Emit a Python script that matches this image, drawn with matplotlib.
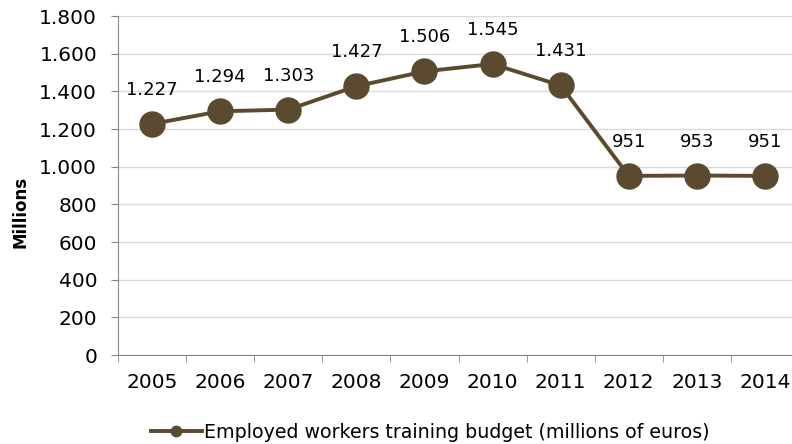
import matplotlib
matplotlib.use("Agg")
import matplotlib.pyplot as plt
from matplotlib.ticker import FuncFormatter, FixedLocator

# Data
years = ["2005", "2006", "2007", "2008", "2009", "2010", "2011", "2012", "2013", "2014"]
budget = [1227, 1294, 1303, 1427, 1506, 1545, 1431, 951, 953, 951]
series_label = "Employed workers training budget (millions of euros)"

color = "#5B4A30"

def thousands(v, pos=None):
    # European style: dot as thousands separator
    return f"{int(v):,}".replace(",", ".")

plt.rcParams["font.family"] = "DejaVu Sans"

fig = plt.figure(figsize=(7.92, 4.44), dpi=100)
ax = fig.add_axes([118 / 792, 89 / 444, 681 / 792, 339 / 444])

x = list(range(len(years)))
ax.plot(x, budget, color=color, lw=2.8, marker="o", markersize=18,
        label=series_label, zorder=3, clip_on=False)

for xi, v in zip(x, budget):
    ax.annotate(thousands(v), (xi, v), xytext=(0, 18), textcoords="offset points",
                ha="center", va="bottom", fontsize=13, color="black")

ax.set_xlim(-0.5, len(years) - 0.5)
ax.set_ylim(0, 1800)
ax.set_yticks(range(0, 1801, 200))
ax.yaxis.set_major_formatter(FuncFormatter(thousands))
ax.set_xticks(x)
ax.set_xticklabels(years)
ax.xaxis.set_minor_locator(FixedLocator([i - 0.5 for i in range(len(years) + 1)]))
ax.tick_params(axis="x", which="major", length=0, pad=13, labelsize=14.5)
ax.tick_params(axis="x", which="minor", length=5, color="#888888", direction="out")
ax.tick_params(axis="y", length=5, color="#888888", labelsize=14.5, pad=10)

ax.grid(axis="y", color="#d9d9d9", lw=1)
ax.set_axisbelow(True)
for s in ["top", "right"]:
    ax.spines[s].set_visible(False)
for s in ["left", "bottom"]:
    ax.spines[s].set_color("#888888")

ax.set_ylabel("Millions", fontsize=12, fontweight="bold")
ax.yaxis.set_label_coords(-88 / 681, 1 - (212 - 16) / 339)

handle, = ax.plot([], [], color=color, lw=2.8, marker="o", markersize=7.5)
fig.legend([handle], [series_label], loc="center", bbox_to_anchor=(430 / 792, 1 - 432 / 444),
           frameon=False, fontsize=13.7, handlelength=2.7, handletextpad=0.1)

fig.savefig("out.png", dpi=100)
